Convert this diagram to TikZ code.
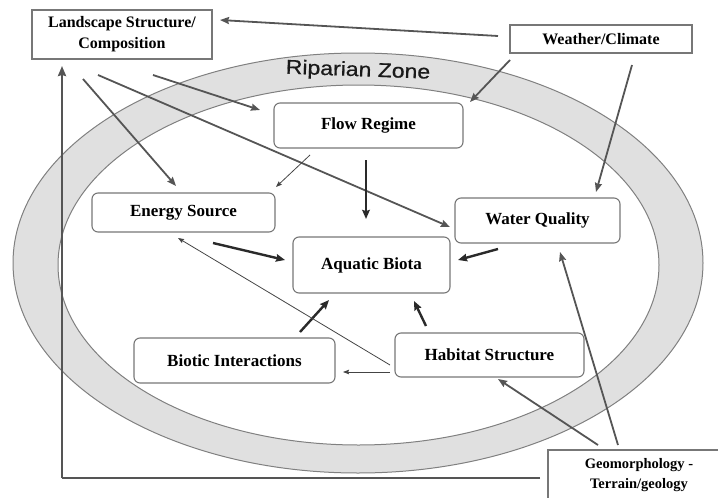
\documentclass[tikz,border=0pt]{standalone}
\usepackage{fontspec}
\setmainfont{Liberation Serif}
\newfontfamily\zonefont[FakeBold=0.6]{Liberation Sans}
\usetikzlibrary{arrows.meta,calc}
\definecolor{bandfill}{HTML}{E0E0E0}
\definecolor{ellgrey}{HTML}{808080}
\definecolor{boxgrey}{HTML}{777777}
\definecolor{arrgrey}{HTML}{555555}
\definecolor{darkarr}{HTML}{2A2A2A}
\definecolor{thinarrc}{HTML}{444444}
\begin{document}
\begin{tikzpicture}[x=1pt,y=-1pt,
  box/.style={draw=boxgrey, line width=1.1pt, rounded corners=6pt, fill=white,
    font=\bfseries\fontsize{17}{20}\selectfont, inner sep=0pt, align=center},
  sqbox/.style={draw=boxgrey, line width=1.1pt, fill=white,
    font=\bfseries\fontsize{16}{21}\selectfont, inner sep=0pt, align=center},
  outarr/.style={draw=arrgrey, line width=1.8pt, -{Stealth[length=9pt,width=7pt,inset=1pt]}},
  inarr/.style={draw=darkarr, line width=2.4pt, -{Stealth[length=9pt,width=7.5pt,inset=1pt]}},
  thinarr/.style={draw=thinarrc, line width=0.8pt, -{Stealth[length=6pt,width=4.5pt,inset=0.8pt]}},
  axisline/.style={draw=arrgrey, line width=2.4pt},
]
\useasboundingbox (0,0) rectangle (718,498);
\clip (0,0) rectangle (718,498);

% riparian band
\fill[bandfill, even odd rule] (358,263) ellipse [x radius=345, y radius=210]
  (358.5,265) ellipse [x radius=300.5, y radius=180];
\draw[ellgrey, line width=1pt] (358,263) ellipse [x radius=345, y radius=210];
\draw[ellgrey, line width=1pt] (358.5,265) ellipse [x radius=300.5, y radius=180];
\node[font=\zonefont\fontsize{20}{24}\selectfont, text=black!90, rotate=-2, inner sep=0pt] (rz) at (358,71) {\scalebox{1.15}[1]{Riparian Zone}};

% nodes
\node[sqbox, minimum width=180, minimum height=49] (L) at (122,34.5) {Landscape Structure/\\Composition};
\node[sqbox, minimum width=182, minimum height=28] (W) at (601,39) {Weather/Climate};
\node[sqbox, minimum width=182, minimum height=50, font=\bfseries\fontsize{14.5}{20}\selectfont] (G) at (639,475) {Geomorphology -\\Terrain/geology};
\node[box, minimum width=189, minimum height=45] (F) at (368.5,125.5) {Flow Regime};
\node[box, minimum width=183, minimum height=39] (E) at (183.5,212.5) {Energy Source};
\node[box, minimum width=165, minimum height=45] (Q) at (537.5,220.5) {Water Quality};
\node[box, minimum width=157, minimum height=56] (A) at (371.5,265) {Aquatic Biota};
\node[box, minimum width=201, minimum height=45] (B) at (234.5,360.5) {Biotic Interactions};
\node[box, minimum width=189, minimum height=44] (H) at (489.5,355) {Habitat Structure};

% axes
\coordinate (orig) at (62,478);
\coordinate (xend) at (540,478);
\draw[axisline] (xend) -- (orig);
\draw[axisline, -{Stealth[length=10pt,width=8pt,inset=1pt]}] (orig) -- ($(L)+(-60,31.5)$);

% connectors from outer drivers
\draw[outarr] ($(W)+(-103,-3)$) -- ($(L)+(98,-14.5)$);
\draw[outarr] ($(W)+(-91,21)$) -- ($(F)+(101.5,-23.5)$);
\draw[outarr] ($(W)+(31,26)$) -- ($(Q)+(58.5,-28.5)$);
\draw[outarr] ($(L)+(31,40.5)$) -- ($(F)+(-108.5,-15.5)$);
\draw[outarr] ($(L)+(-24,40.5)$) -- ($(Q)+(-87.5,6.5)$);
\draw[outarr] ($(L)+(-39,44.5)$) -- ($(E)+(-7.5,-26.5)$);
\draw[outarr] ($(G)+(-41,-30)$) -- ($(H)+(8.5,24)$);
\draw[outarr] ($(G)+(-21,-30)$) -- ($(Q)+(22.5,31.5)$);

% inner connectors
\draw[thinarr] ($(F)+(-58.5,29.5)$) -- ($(E)+(92.5,-25.5)$);
\draw[inarr] ($(F)+(-2.5,34.5)$) -- ($(A)+(-5.5,-46)$);
\draw[inarr] ($(E)+(29.5,30.5)$) -- ($(A)+(-86.5,-5)$);
\draw[inarr] ($(Q)+(-39.5,28.5)$) -- ($(A)+(86.5,-5)$);
\draw[inarr] ($(B)+(65.5,-28.5)$) -- ($(A)+(-42.5,35)$);
\draw[inarr] ($(H)+(-63.5,-29)$) -- ($(A)+(42.5,36)$);
\draw[thinarr] ($(H)+(-99.5,10)$) -- ($(E)+(-5.5,25.5)$);
\draw[thinarr] ($(H)+(-99.5,17)$) -- ($(B)+(108.5,11.5)$);
\end{tikzpicture}
\end{document}
